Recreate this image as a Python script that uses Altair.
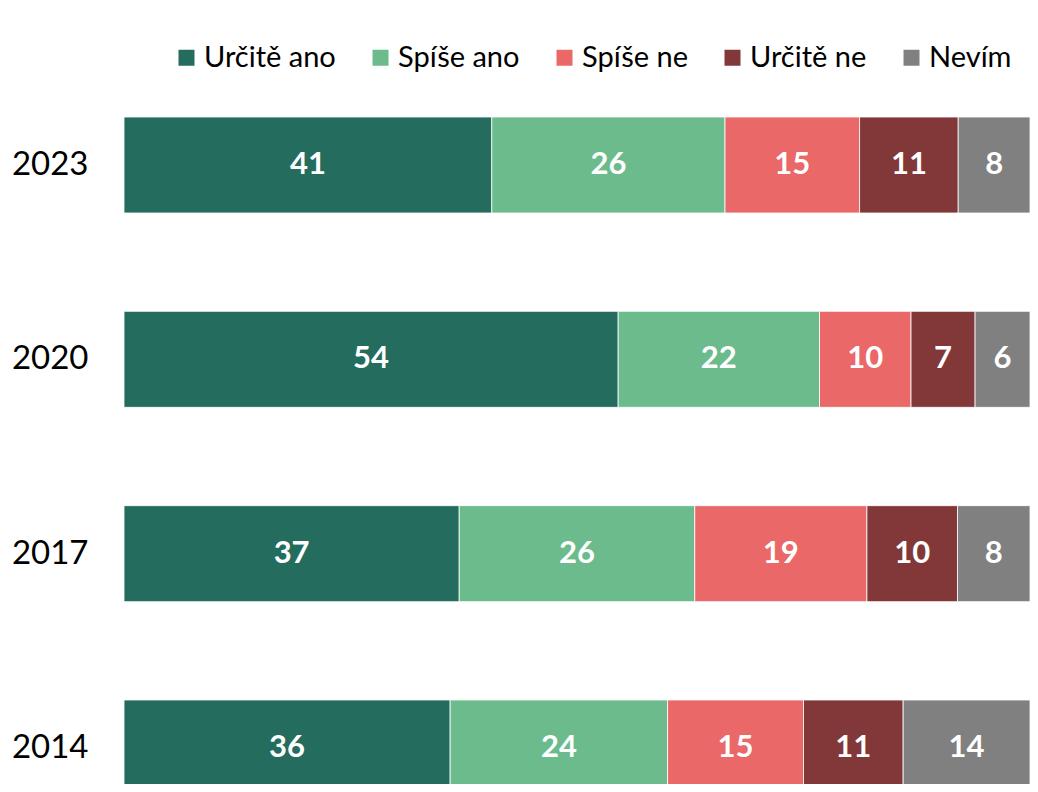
import altair as alt
import pandas as pd

years = ["2023", "2020", "2017", "2014"]
categories = ["Určitě ano", "Spíše ano", "Spíše ne", "Určitě ne", "Nevím"]
colors = ["#236C5E", "#6BBB8C", "#EA6868", "#823739", "#808080"]
v2023 = [41, 26, 15, 11, 8]
v2020 = [54, 22, 10, 7, 6]
v2017 = [37, 26, 19, 10, 8]
v2014 = [36, 24, 15, 11, 14]

rows = []
for yr, vals in zip(years, [v2023, v2020, v2017, v2014]):
    for i, (c, v) in enumerate(zip(categories, vals)):
        rows.append({"year": yr, "cat": c, "order": i, "value": v})
df = pd.DataFrame(rows)

base = alt.Chart(df).transform_stack(
    stack="value",
    groupby=["year"],
    as_=["v0", "v1"],
    sort=[alt.SortField("order", order="ascending")],
    offset="normalize",
).transform_calculate(mid="(datum.v0 + datum.v1) / 2")

xs = alt.Scale(domain=[0, 1])
yaxis = alt.Axis(
    title=None, domain=False, ticks=False, labelPadding=36,
    labelFontSize=33, labelFont="Lato", labelColor="black",
)
yscale = alt.Scale(paddingInner=0.506, paddingOuter=0, range=[0, 679])
yenc = alt.Y("year:N", sort=years, scale=yscale, axis=yaxis)

bars = base.mark_bar(stroke="white", strokeWidth=0.8, clip=True).encode(
    x=alt.X("v0:Q", scale=xs, axis=None),
    x2="v1:Q",
    y=yenc,
    color=alt.Color(
        "cat:N",
        scale=alt.Scale(domain=categories, range=colors),
        legend=alt.Legend(
            title=None, orient="none", direction="horizontal",
            legendX=48, legendY=-74,
            symbolType="square", symbolSize=256, symbolStrokeWidth=0,
            labelFont="Lato", labelFontSize=29, labelColor="black",
            labelOffset=3, columnPadding=30,
        ),
    ),
)

text = base.mark_text(
    font="Lato", fontWeight="bold", fontSize=31, color="white", baseline="middle",
    clip=True,
).encode(
    x=alt.X("mid:Q", scale=xs, axis=None),
    y=alt.Y("year:N", sort=years),
    text="value:Q",
)

chart = alt.layer(bars, text).properties(
    width=906,
    height=667,
    padding={"left": 116, "top": 109, "right": 0, "bottom": 0},
    autosize=alt.AutoSizeParams(type="none"),
).configure_view(stroke=None)

chart.save("out.html", embed_options={"renderer": "svg", "actions": False})
